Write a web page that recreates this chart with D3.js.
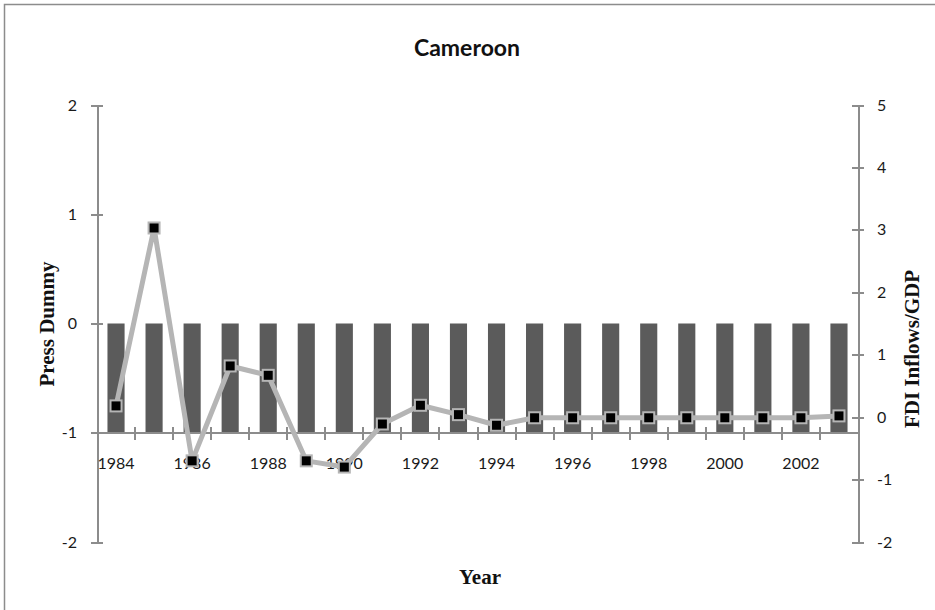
<!DOCTYPE html>
<meta charset="utf-8">
<head>
    <title>Cameroon</title>
    <script src="https://d3js.org/d3.v7.min.js"></script>
</head>
<style>
    body {
        margin: 0;
        background-color: #ffffff;
    }
    .axis path,
    .axis line {
        fill: none;
        stroke: #8c8c8c;
        stroke-width: 2px;
        shape-rendering: crispEdges;
    }
    .axis text {
        font: 16px Lato, sans-serif;
        fill: #1a1a1a;
    }
    .bar {
        fill: #5b5b5b;
    }
    .serif {
        font-family: "Liberation Serif", "DejaVu Serif", serif;
        font-weight: bold;
        font-size: 21px;
        fill: #111;
    }
</style>
<body>
<svg width="935" height="610"></svg>
<script>
    var years = d3.range(1984, 2004);
    var pressDummy = [-1, -1, -1, -1, -1, -1, -1, -1, -1, -1, -1, -1, -1, -1, -1, -1, -1, -1, -1, -1];
    var fdiGdp = [0.18, 3.03, -0.70, 0.82, 0.67, -0.70, -0.80, -0.11, 0.19, 0.04, -0.13, -0.01, -0.01, -0.01, -0.01, -0.01, -0.01, -0.01, -0.01, 0.02];
    var leftTicks = [-2, -1, 0, 1, 2];
    var rightTicks = [-2, -1, 0, 1, 2, 3, 4, 5];
    var yearLabels = [1984, 1986, 1988, 1990, 1992, 1994, 1996, 1998, 2000, 2002];

    var svg = d3.select("svg"),
        margin = {top: 105, right: 77, bottom: 68, left: 97},
        width = +svg.attr("width") - margin.left - margin.right,
        height = +svg.attr("height") - margin.top - margin.bottom;

    // frame of the picture
    svg.append("rect")
        .attr("x", 4.5).attr("y", 4.5)
        .attr("width", 940).attr("height", 620)
        .attr("fill", "none")
        .attr("stroke", "#8c8c8c")
        .attr("stroke-width", 1.5);

    var g = svg.append("g")
        .attr("transform", "translate(" + margin.left + "," + margin.top + ")");

    var x = d3.scaleBand().domain(years).range([0, width]).paddingInner(0.55).paddingOuter(0.275);
    var xb = d3.scaleBand().domain(years).range([0, width]);
    var yL = d3.scaleLinear().domain([-2, 2]).range([height, 0]);
    var yR = d3.scaleLinear().domain([-2, 5]).range([height, 0]);

    // bars
    g.selectAll(".bar")
        .data(years)
        .enter().append("rect")
        .attr("class", "bar")
        .attr("x", function(d) { return x(d); })
        .attr("width", x.bandwidth())
        .attr("y", function(d, i) { return yL(Math.max(0, pressDummy[i])); })
        .attr("height", function(d, i) { return Math.abs(yL(pressDummy[i]) - yL(0)); });

    // left axis
    g.append("g")
        .attr("class", "axis")
        .call(d3.axisLeft(yL).tickValues(leftTicks).tickFormat(function(d) { return String(d); }).tickSizeOuter(0).tickSizeInner(6).tickPadding(14))
        .call(function(a) {
            a.selectAll(".tick line").attr("x2", 6).attr("x1", -6);
        });

    // right axis
    g.append("g")
        .attr("class", "axis")
        .attr("transform", "translate(" + width + ",0)")
        .call(d3.axisRight(yR).tickValues(rightTicks).tickFormat(function(d) { return String(d); }).tickSizeOuter(0).tickSizeInner(6).tickPadding(13))
        .call(function(a) {
            a.selectAll(".tick line").attr("x1", -6).attr("x2", 6);
        });

    // category axis at press = -1
    var xAxis = g.append("g")
        .attr("class", "axis")
        .attr("transform", "translate(0," + yL(-1) + ")");
    xAxis.append("line")
        .attr("x1", 0).attr("x2", width)
        .attr("y1", 0).attr("y2", 0);
    xAxis.selectAll(".cat-tick")
        .data(years.slice(1))
        .enter().append("line")
        .attr("class", "cat-tick")
        .attr("x1", function(d) { return xb(d); })
        .attr("x2", function(d) { return xb(d); })
        .attr("y1", -6).attr("y2", 7);
    xAxis.selectAll(".yr")
        .data(yearLabels)
        .enter().append("text")
        .attr("x", function(d) { return xb(d) + xb.bandwidth() / 2; })
        .attr("y", 36)
        .attr("text-anchor", "middle")
        .text(function(d) { return d; });

    // FDI line
    var line = d3.line()
        .x(function(d, i) { return xb(years[i]) + xb.bandwidth() / 2; })
        .y(function(d) { return yR(d); });

    g.append("path")
        .datum(fdiGdp)
        .attr("fill", "none")
        .attr("stroke", "#b5b5b5")
        .attr("stroke-width", 5)
        .attr("stroke-linejoin", "round")
        .attr("d", line);

    g.selectAll(".marker")
        .data(fdiGdp)
        .enter().append("rect")
        .attr("class", "marker")
        .attr("x", function(d, i) { return xb(years[i]) + xb.bandwidth() / 2 - 5.5; })
        .attr("y", function(d) { return yR(d) - 5.5; })
        .attr("width", 11).attr("height", 11)
        .attr("fill", "#000")
        .attr("stroke", "#b5b5b5")
        .attr("stroke-width", 2);

    // titles
    svg.append("text")
        .attr("x", 467)
        .attr("y", 56)
        .attr("text-anchor", "middle")
        .style("font", "bold 23px Lato, sans-serif")
        .style("fill", "#111")
        .text("Cameroon");

    svg.append("text")
        .attr("class", "serif")
        .attr("transform", "translate(54,324) rotate(-90)")
        .attr("text-anchor", "middle")
        .text("Press Dummy");

    svg.append("text")
        .attr("class", "serif")
        .attr("transform", "translate(919,349) rotate(-90)")
        .attr("text-anchor", "middle")
        .text("FDI Inflows/GDP");

    svg.append("text")
        .attr("class", "serif")
        .attr("x", 480)
        .attr("y", 584)
        .attr("text-anchor", "middle")
        .text("Year");
</script>
</body>
